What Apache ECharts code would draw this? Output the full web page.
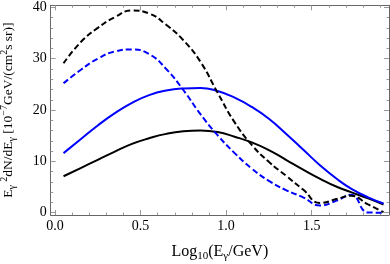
<!DOCTYPE html>
<html><head><meta charset="utf-8">
<script src="https://cdn.jsdelivr.net/npm/echarts@6/dist/echarts.min.js"></script>
<style>html,body{margin:0;padding:0;background:#fff}#c{width:390px;height:264px}</style>
</head><body><div id="c"></div>
<script>
const xs = [0.05,0.15,0.25,0.35,0.45,0.55,0.65,0.75,0.85,0.95,1.05,1.15,1.25,1.35,1.45,1.55,1.65,1.73,1.83,1.92];
const blackDashed = [29.1,33.2,36.0,38.1,39.4,38.8,36.6,33.6,29.4,23.4,17.6,13.2,9.9,7.2,4.5,1.9,2.7,3.3,1.6,0.1];
const blueDashed  = [25.2,27.8,30.0,31.4,31.8,30.9,28.0,23.9,19.2,15.1,11.6,8.6,6.2,4.4,3.0,1.4,2.4,3.5,0.05,0.0];
const blueSolid   = [11.6,14.3,17.0,19.4,21.4,22.9,23.8,24.2,24.3,23.7,22.4,20.6,18.3,15.4,12.3,9.2,6.5,4.7,3.0,1.8];
const blackSolid  = [7.1,8.7,10.3,11.9,13.4,14.5,15.35,15.85,16.0,15.7,14.8,13.7,12.2,10.3,8.4,6.6,5.0,4.0,2.8,1.6];
const xMajor = [0,0.5,1.0,1.5];
const xMinor = [0.1,0.2,0.3,0.4,0.6,0.7,0.8,0.9,1.1,1.2,1.3,1.4,1.6,1.7,1.8,1.9];
const yMajor = [0,10,20,30,40];
const yMinor = [2,4,6,8,12,14,16,18,22,24,26,28,32,34,36,38];

const FONT = 'Liberation Serif';
const frameColor = '#666';
const tickColor = '#999';
const pairs = ys => xs.map((x,i)=>[x,ys[i]]);
const richX = {
  b:{fontFamily:FONT,fontSize:16,color:'#000',lineHeight:20},
  sub:{fontFamily:FONT,fontSize:11,color:'#000',lineHeight:11,verticalAlign:'bottom'}
};
const richY = {
  b:{fontFamily:FONT,fontSize:13.5,color:'#000',lineHeight:18},
  sub:{fontFamily:FONT,fontSize:10,color:'#000',lineHeight:10,verticalAlign:'bottom'},
  sup:{fontFamily:FONT,fontSize:10,color:'#000',lineHeight:10,verticalAlign:'top'}
};
function xAx(pos, vals, len, withLabel, withLine, extra){
  return Object.assign({
    type:'value', min:-0.025, max:1.952, position:pos,
    axisLine:{show:withLine, onZero:false, lineStyle:{color:frameColor,width:1}},
    axisTick:{show:true, inside:true, length:len, customValues:vals, lineStyle:{color:tickColor}},
    axisLabel:withLabel?{show:true, customValues:vals, formatter:v=>v.toFixed(1), fontFamily:FONT, fontSize:14, color:'#000', margin:4}:{show:false},
    splitLine:{show:false}
  }, extra||{});
}
function yAx(pos, vals, len, withLabel, withLine, extra){
  return Object.assign({
    type:'value', min:-0.45, max:40.4, position:pos,
    axisLine:{show:withLine, onZero:false, lineStyle:{color:frameColor,width:1}},
    axisTick:{show:true, inside:true, length:len, customValues:vals, lineStyle:{color:tickColor}},
    axisLabel:withLabel?{show:true, customValues:vals, formatter:v=>String(v), fontFamily:FONT, fontSize:14, color:'#000', margin:4}:{show:false},
    splitLine:{show:false}
  }, extra||{});
}
const option = {
  animation:false,
  grid:{left:50.7, top:5.3, right:1, bottom:49, containLabel:false, outerBoundsMode:'none'},
  xAxis:[
    xAx('bottom', xMajor, 5, true, true, {name:'{b|Log}{sub|10}{b|(E}{sub|γ}{b|/GeV)}', nameLocation:'middle', nameGap:27, nameTextStyle:{rich:richX}}),
    xAx('bottom', xMinor, 2.5, false, false),
    xAx('top', xMajor, 5, false, true),
    xAx('top', xMinor, 2.5, false, false)
  ],
  yAxis:[
    yAx('left', yMajor, 5, true, true, {name:'{b|E}{sub|γ}{b| }{sup|2}{b|dN/dE}{sub|γ}{b| [10}{sup|−7}{b|GeV/(cm}{sup|2}{b|s sr)]}', nameLocation:'middle', nameRotate:90, nameGap:33, nameTextStyle:{rich:richY}}),
    yAx('left', yMinor, 2.5, false, false),
    yAx('right', yMajor, 5, false, true),
    yAx('right', yMinor, 2.5, false, false)
  ],
  series:[
    {type:'line', data:pairs(blackSolid), showSymbol:false, smooth:0.5, lineStyle:{color:'#000', width:2}},
    {type:'line', data:pairs(blueSolid), showSymbol:false, smooth:0.5, lineStyle:{color:'#0000ff', width:2}},
    {type:'line', data:pairs(blueDashed), showSymbol:false, smooth:0.5, lineStyle:{color:'#0000ff', width:2, type:[6,3]}},
    {type:'line', data:pairs(blackDashed), showSymbol:false, smooth:0.5, lineStyle:{color:'#000', width:2, type:[6,3]}}
  ]
};
echarts.init(document.getElementById('c'), null, {renderer:'canvas'}).setOption(option);
</script></body></html>
